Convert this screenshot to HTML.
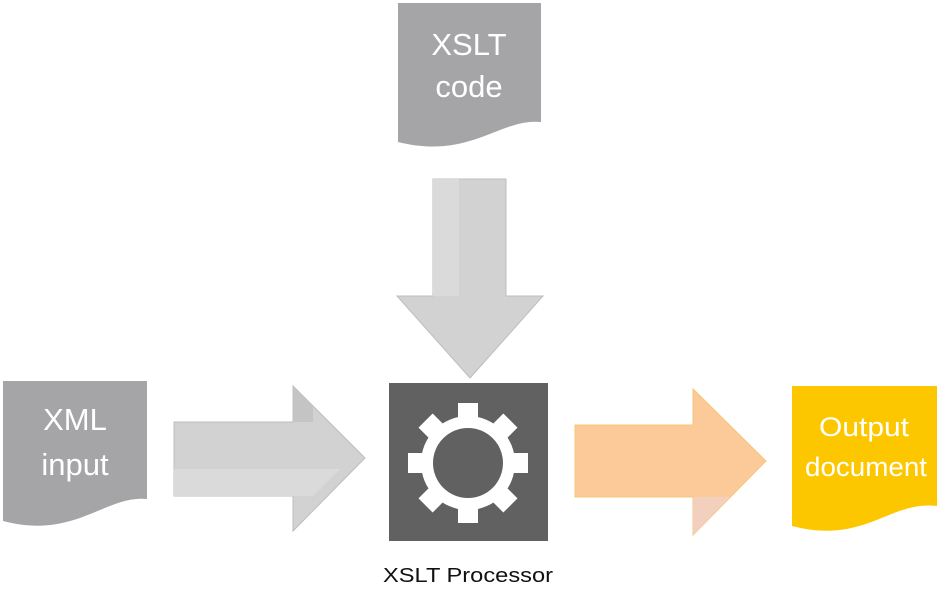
<!DOCTYPE html>
<html><head><meta charset="utf-8"><style>html,body{margin:0;padding:0;background:#fff}svg{display:block}</style></head>
<body>
<svg width="952" height="608" viewBox="0 0 952 608" xmlns="http://www.w3.org/2000/svg" font-family="'Liberation Sans', 'DejaVu Sans', sans-serif">
<path d="M398,3 H541 V122 C500,118 470,160 398,142 Z" fill="#a5a5a7"/>
<text x="469" y="55" font-size="31" fill="#fff" text-anchor="middle">XSLT</text>
<text x="469" y="97" font-size="31" fill="#fff" text-anchor="middle">code</text>
<path d="M433,179 H506 V296 H543 L470,378 L397,296 H433 Z" fill="#d2d2d2" stroke="#bdbdbd" stroke-width="1"/>
<path d="M433,179 H459 V296 H433 Z" fill="#dadada"/>
<path d="M3,381 H147 V499 C105,495 75,540 3,521 Z" fill="#a5a5a7"/>
<text x="75" y="430" font-size="31" fill="#fff" text-anchor="middle">XML</text>
<text x="75" y="475" font-size="31" fill="#fff" text-anchor="middle">input</text>
<path d="M174,422 H293 V386 L365,458 L293,531 V496 H174 Z" fill="#d2d2d2" stroke="#bdbdbd" stroke-width="1"/>
<path d="M174,469 H340 L313,496 H174 Z" fill="#dadada"/>
<path d="M293,386 L313,406 V422 H293 Z" fill="#c4c4c4"/>
<rect x="389" y="383" width="159" height="158" fill="#616161"/>
<g fill="#fff" transform="translate(468,463)">
  <rect x="-10" y="-60" width="20" height="120"/>
  <rect x="-10" y="-60" width="20" height="120" transform="rotate(45)"/>
  <rect x="-10" y="-60" width="20" height="120" transform="rotate(90)"/>
  <rect x="-10" y="-60" width="20" height="120" transform="rotate(135)"/>
  <circle r="47"/>
</g>
<circle cx="468" cy="463" r="35" fill="#616161"/>
<text x="468" y="582" font-size="20" fill="#111" text-anchor="middle" textLength="170" lengthAdjust="spacingAndGlyphs">XSLT Processor</text>
<path d="M575,425 H693 V389 L766,461 L693,535 V497 H575 Z" fill="#fcca98" stroke="#f6c57a" stroke-width="1"/>
<path d="M693,497 H730 L693,535 Z" fill="#f2d0bd"/>
<path d="M792,386 H937 V506 C890,500 865,545 792,526 Z" fill="#fdc700"/>
<text x="864" y="436" font-size="27" fill="#fff" text-anchor="middle" textLength="90" lengthAdjust="spacingAndGlyphs">Output</text>
<text x="866" y="476" font-size="27" fill="#fff" text-anchor="middle" textLength="122" lengthAdjust="spacingAndGlyphs">document</text>
</svg>
</body></html>
